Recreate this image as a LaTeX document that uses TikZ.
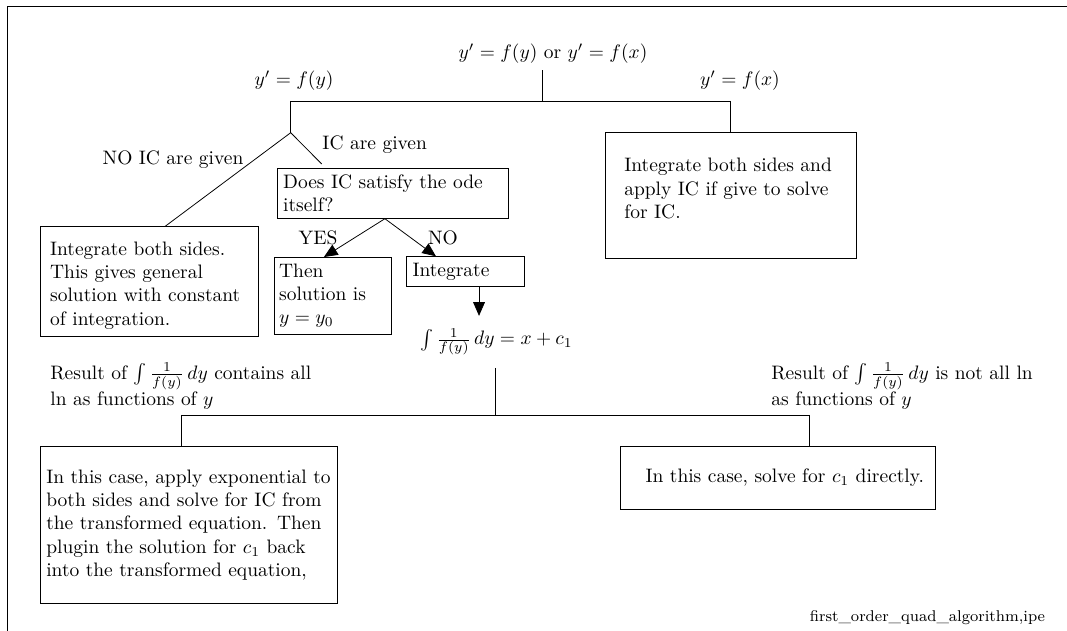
\documentclass[tikz,border=0pt]{standalone}
\usepackage{tikz}
\usetikzlibrary{arrows.meta,positioning,calc}
\tikzset{every node/.append style={align=center}}

\begin{document}
\begin{tikzpicture}[x=0.5134pt, y=-0.5134pt,
    box/.style={draw, align=left, inner ysep=0pt},
    arr/.style={-{Triangle[length=7pt, width=6pt]}}]
    \useasboundingbox (0,0) rectangle (1067,631);

    % Frame
    \draw (7.6,631) -- (7.6,6.7) -- (1067,6.7);

    % Top labels
    \node[anchor=base] (eqtop) at (553,58.4) {$y'=f(y)$ or $y'=f(x)$};
    \node[anchor=base] (lyfy) at (294,85.8) {$y'=f(y)$};
    \node[anchor=base] (lyfx) at (740,85.8) {$y'=f(x)$};

    % Top fork
    \coordinate (ctop) at (542,101);
    \coordinate (cl) at (290.7,101);
    \coordinate (cr) at (730.5,101);
    \coordinate (split) at (290.7,132.7);
    \draw (eqtop.south -| ctop) -- (ctop);
    \draw (cl) -- (cr);
    \draw (cl) -- (split);

    % y' = f(x) branch
    \node[box, inner xsep=9.9pt, text width=109pt, minimum height=64.4pt, text depth=31.3pt] (intx) at (730.5,195.5) {Integrate both sides and\\ apply IC if give to solve\\ for IC.};
    \draw (cr) -- (intx.north);

    % y' = f(y) branch
    \node[anchor=base] (noiclab) at (173,165) {NO IC are given};
    \node[anchor=base] (iclab) at (374.7,149.3) {IC are given};
    \node[box, inner xsep=5.1pt, text width=102pt, minimum height=56.4pt, text depth=34.3pt] (intgen) at (149.5,281.7) {Integrate both sides.\\ This gives general\\ solution with constant\\ of integration.};
    \coordinate (icend) at (321.7,164);
    \draw (split) -- ([xshift=8pt]intgen.north);
    \draw (split) -- (icend);

    % Does IC satisfy the ode?
    \node[box, inner xsep=3.1pt, text width=112.3pt, minimum height=25.7pt] (doesic) at (392.5,193.3) {Does IC satisfy the ode\\ itself?};
    \node[box, inner xsep=2.6pt, text width=54.8pt, minimum height=39.3pt] (thenbox) at (332.5,295.7) {Then\\ solution is\\ $y=y_0$};
    \node[box, inner xsep=3.3pt, text width=53.9pt, minimum height=15.4pt] (intbox) at (465,271.7) {Integrate};
    \node[anchor=base] (yeslab) at (318,244.3) {YES};
    \node[anchor=base] (nolab) at (443,244.3) {NO};
    \coordinate (askpt) at ([xshift=-3.9pt]doesic.south);
    \draw[arr] (askpt) -- ([xshift=-4.4pt]thenbox.north);
    \draw[arr] (askpt) -- ([xshift=-14.9pt]intbox.north);

    % Integral
    \node[anchor=base, inner ysep=6.3pt] (intlab) at (496.5,345) {$\int\frac{1}{f(y)}\,dy=x+c_1$};
    \draw[arr] ([xshift=7.2pt]intbox.south) -- ([xshift=7.2pt]intbox.south |- intlab.north);

    % Bottom fork
    \coordinate (cb) at (495,415);
    \coordinate (cbl) at (181,415);
    \coordinate (cbr) at (809,415);
    \draw (intlab.south -| cb) -- (cb);
    \draw (cbl) -- (cbr);
    \node[anchor=base west, inner sep=0pt, text width=140pt, align=left] (resl) at (50,379.5) {Result of $\int\frac{1}{f(y)}\,dy$ contains all\\ ln as functions of $y$};
    \node[anchor=base west, inner sep=0pt, text width=140pt, align=left] (resr) at (771,379.5) {Result of $\int\frac{1}{f(y)}\,dy$ is not all ln\\ as functions of $y$};
    \node[box, inner xsep=3.2pt, text width=146pt, minimum height=80.3pt] (lnbox) at (188.5,525) {In this case, apply exponential to\\ both sides and solve for IC from\\ the transformed equation. Then\\ plugin the solution for $c_1$ back\\ into the transformed equation,};
    \node[box, align=right, inner xsep=5.6pt, text width=150.4pt, minimum height=32.1pt] (dirbox) at (777.5,478) {In this case, solve for $c_1$ directly.};
    \draw (cbl) -- (cbl |- lnbox.north);
    \draw (cbr) -- (cbr |- dirbox.north);

    % File name
    \node[anchor=base, font=\footnotesize] (fname) at (927.5,621) {first\_order\_quad\_algorithm,ipe};
\end{tikzpicture}
\end{document}
